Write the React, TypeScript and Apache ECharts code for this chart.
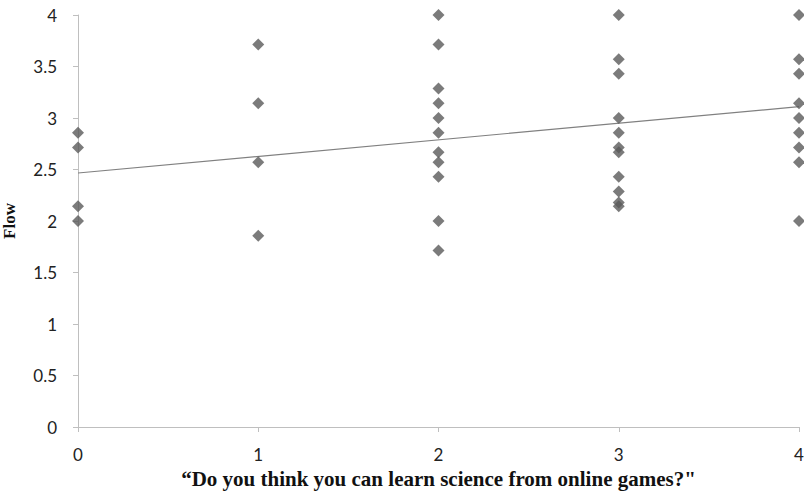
import React, { useEffect, useRef } from "react";
import * as echarts from "echarts";

// Flow scores per answer (0..4)
const flowAt0 = [2.857, 2.714, 2.143, 2.0];
const flowAt1 = [3.714, 3.143, 2.571, 1.857];
const flowAt2 = [4.0, 3.714, 3.286, 3.143, 3.0, 2.857, 2.667, 2.571, 2.429, 2.0, 1.714];
const flowAt3 = [4.0, 3.571, 3.429, 3.0, 2.857, 2.714, 2.667, 2.429, 2.286, 2.18, 2.143];
const flowAt4 = [4.0, 3.571, 3.429, 3.143, 3.0, 2.857, 2.714, 2.571, 2.0];
const answers = [0, 1, 2, 3, 4];
const trendX = [0, 4];
const trendY = [2.466, 3.11];

const groups = [flowAt0, flowAt1, flowAt2, flowAt3, flowAt4];

export default function App() {
  const ref = useRef<HTMLDivElement>(null);
  useEffect(() => {
    if (!ref.current) return;
    const chart = echarts.init(ref.current, undefined, { renderer: "svg" });
    const points: number[][] = [];
    groups.forEach((g, i) => g.forEach((v) => points.push([answers[i], v])));
    const trend = trendX.map((x, i) => [x, trendY[i]]);
    chart.setOption({
      animation: false,
      backgroundColor: "#ffffff",
      grid: { left: 78, right: 5, top: 15, bottom: 66, outerBoundsMode: "none", containLabel: false },
      xAxis: {
        type: "value",
        min: 0,
        max: 4,
        interval: 1,
        name: "\u201cDo you think you can learn science from online games?\"",
        nameLocation: "middle",
        nameGap: 41,
        nameTextStyle: { fontFamily: "Liberation Serif", fontWeight: "bold", fontSize: 21, color: "#111" },
        axisLine: { lineStyle: { color: "#bfbfbf", width: 1 } },
        axisTick: { show: true, length: 5, lineStyle: { color: "#bfbfbf" } },
        axisLabel: { fontFamily: "Lato", fontSize: 17, color: "#222", margin: 19 },
        splitLine: { show: false },
      },
      yAxis: {
        type: "value",
        min: 0,
        max: 4,
        interval: 0.5,
        name: "Flow",
        nameLocation: "middle",
        nameGap: 60,
        nameTextStyle: { fontFamily: "Liberation Serif", fontWeight: "bold", fontSize: 17, color: "#111" },
        axisLine: { show: true, lineStyle: { color: "#bfbfbf", width: 1 } },
        axisTick: { show: true, length: 5, lineStyle: { color: "#bfbfbf" } },
        axisLabel: { fontFamily: "Lato", fontSize: 17, color: "#222", margin: 21 },
        splitLine: { show: false },
      },
      series: [
        {
          type: "line",
          data: trend,
          symbol: "none",
          lineStyle: { color: "#808080", width: 1.2 },
          z: 1,
        },
        {
          type: "scatter",
          data: points,
          symbol: "diamond",
          symbolSize: [12, 12],
          itemStyle: { color: "#5a5a5a" },
          z: 2,
        },
      ],
    });
    return () => chart.dispose();
  }, []);
  return <div ref={ref} style={{ position: "absolute", left: 0, top: 0, width: 804, height: 493 }} />;
}
